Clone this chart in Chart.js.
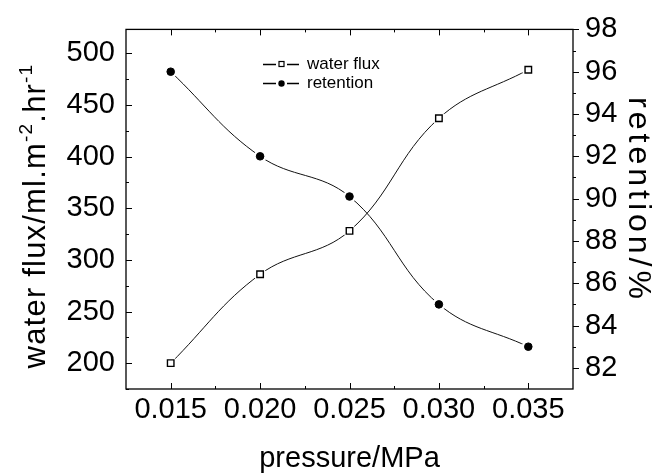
<!DOCTYPE html>
<html><head><meta charset="utf-8">
<script src="https://cdn.jsdelivr.net/npm/chart.js@4/dist/chart.umd.min.js"></script>
<style>html,body{margin:0;padding:0;background:#fff;} #wrap{width:655px;height:476px;}</style>
</head><body><div id="wrap"><canvas id="c" width="655" height="476"></canvas></div>
<script>
const pressure = [0.015, 0.020, 0.025, 0.030, 0.035];
const waterFlux = [200, 286, 328, 437, 484];
const retention = [96.0, 92.0, 90.1, 85.0, 83.0];
const xTicks = [0.015, 0.020, 0.025, 0.030, 0.035];
const fluxTicks = [200, 250, 300, 350, 400, 450, 500];
const retentionTicks = [82, 84, 86, 88, 90, 92, 94, 96, 98];
const seriesNames = ['water flux', 'retention'];
const xTitle = 'pressure/MPa';
const yTitleParts = [['water flux/ml.m', false], ['-2', true], ['.hr', false], ['-1', true]];
const y2Title = 'retention/%';

const FONT = "'Liberation Sans', Arial, sans-serif";

const frameTicks = {
  id: 'frameTicks',
  afterDatasetsDraw(chart) {
    const {ctx, chartArea: a, scales} = chart;
    ctx.save();
    ctx.strokeStyle = '#000';
    ctx.lineWidth = 1.3;
    ctx.strokeRect(a.left, a.top, a.right - a.left, a.bottom - a.top);
    ctx.lineWidth = 1;
    ctx.beginPath();
    const xs = scales.x, ys = scales.y, y2 = scales.y2;
    const vline = (px, y0, y1) => { px = Math.round(px) + 0.5; ctx.moveTo(px, y0); ctx.lineTo(px, y1); };
    const hline = (py, x0, x1) => { py = Math.round(py) + 0.5; ctx.moveTo(x0, py); ctx.lineTo(x1, py); };
    xTicks.forEach((v, i) => {
      const p = xs.getPixelForValue(v);
      vline(p, a.bottom, a.bottom - 6); vline(p, a.top, a.top + 6);
      if (i < xTicks.length - 1) {
        const m = xs.getPixelForValue((v + xTicks[i + 1]) / 2);
        vline(m, a.bottom, a.bottom - 3); vline(m, a.top, a.top + 3);
      }
    });
    fluxTicks.forEach((v, i) => {
      const p = ys.getPixelForValue(v);
      hline(p, a.left, a.left + 6);
      if (i < fluxTicks.length - 1) {
        const m = ys.getPixelForValue((v + fluxTicks[i + 1]) / 2);
        hline(m, a.left, a.left + 3);
      }
    });
    hline(ys.getPixelForValue(fluxTicks[0] - 25), a.left, a.left + 3);
    retentionTicks.forEach((v, i) => {
      const p = y2.getPixelForValue(v);
      hline(p, a.right, a.right + 6);
      if (i < retentionTicks.length - 1) {
        const m = y2.getPixelForValue((v + retentionTicks[i + 1]) / 2);
        hline(m, a.right, a.right + 3);
      }
    });
    ctx.stroke();
    ctx.restore();
  }
};

const legendPlugin = {
  id: 'insideLegend',
  afterDatasetsDraw(chart) {
    const {ctx} = chart;
    ctx.save();
    const rows = [64, 83];
    seriesNames.forEach((name, i) => {
      const y = rows[i];
      ctx.strokeStyle = '#000';
      ctx.lineWidth = 1.4;
      ctx.beginPath();
      ctx.moveTo(263, y + 0.5); ctx.lineTo(276, y + 0.5);
      ctx.moveTo(287, y + 0.5); ctx.lineTo(299, y + 0.5);
      ctx.stroke();
      ctx.lineWidth = 1.2;
      if (i === 0) {
        ctx.fillStyle = '#fff';
        ctx.fillRect(279, y - 2.5, 5, 5);
        ctx.strokeRect(279, y - 2.5, 5, 5);
      } else {
        ctx.fillStyle = '#000';
        ctx.beginPath(); ctx.arc(281.5, y + 0.5, 3.2, 0, Math.PI * 2); ctx.fill();
      }
      ctx.fillStyle = '#000';
      ctx.font = '17px ' + FONT;
      ctx.textBaseline = 'middle';
      ctx.textAlign = 'left';
      ctx.fillText(name, 307, y);
    });
    ctx.restore();
  }
};

const titlePlugin = {
  id: 'axisTitles',
  afterDraw(chart) {
    const {ctx} = chart;
    ctx.save();
    ctx.fillStyle = '#000';
    const big = '31px ' + FONT, small = '19px ' + FONT;
    try { ctx.letterSpacing = '1.2px'; } catch (e) {}
    let total = 0;
    yTitleParts.forEach(([t, sup]) => { ctx.font = sup ? small : big; total += ctx.measureText(t).width; });
    ctx.translate(45, 216);
    ctx.rotate(-Math.PI / 2);
    ctx.textBaseline = 'alphabetic';
    ctx.textAlign = 'left';
    let x = -total / 2;
    yTitleParts.forEach(([t, sup]) => {
      ctx.font = sup ? small : big;
      ctx.fillText(t, x, sup ? -13 : 0);
      x += ctx.measureText(t).width;
    });
    ctx.setTransform(1, 0, 0, 1, 0, 0);
    ctx.translate(638, 200);
    ctx.rotate(Math.PI / 2);
    ctx.font = '32px ' + FONT;
    try { ctx.letterSpacing = '4px'; } catch (e) {}
    ctx.textAlign = 'center';
    ctx.textBaseline = 'middle';
    ctx.fillText(y2Title, 0, 0);
    ctx.restore();
  }
};

const tickFont = {family: FONT, size: 29};
const fluxPts = pressure.map((p, i) => ({x: p, y: waterFlux[i]}));
const retPts = pressure.map((p, i) => ({x: p, y: retention[i]}));

new Chart(document.getElementById('c'), {
  type: 'line',
  data: {
    datasets: [
      {label: seriesNames[0], data: fluxPts, yAxisID: 'y', order: 3,
       borderColor: '#111', borderWidth: 1, tension: 0.4, pointRadius: 0},
      {label: seriesNames[1], data: retPts, yAxisID: 'y2', order: 3,
       borderColor: '#111', borderWidth: 1, tension: 0.4, pointRadius: 0},
      {label: 'halo1', data: fluxPts, yAxisID: 'y', order: 2, showLine: false,
       pointStyle: 'circle', pointRadius: 6.5, pointBackgroundColor: '#fff', pointBorderWidth: 0, pointBorderColor: '#fff'},
      {label: 'halo2', data: retPts, yAxisID: 'y2', order: 2, showLine: false,
       pointStyle: 'circle', pointRadius: 6.5, pointBackgroundColor: '#fff', pointBorderWidth: 0, pointBorderColor: '#fff'},
      {label: seriesNames[0] + ' pts', data: fluxPts, yAxisID: 'y', order: 1, showLine: false,
       pointStyle: 'rect', pointRadius: 4.6, pointBackgroundColor: '#fff',
       pointBorderColor: '#000', pointBorderWidth: 1.4},
      {label: seriesNames[1] + ' pts', data: retPts, yAxisID: 'y2', order: 1, showLine: false,
       pointStyle: 'circle', pointRadius: 3.8, pointBackgroundColor: '#000',
       pointBorderColor: '#000', pointBorderWidth: 1}
    ]
  },
  options: {
    responsive: false, animation: false, devicePixelRatio: 1,
    layout: {padding: {top: 28, left: 0, right: 0, bottom: 0}},
    plugins: {legend: {display: false}, tooltip: {enabled: false}},
    scales: {
      x: {
        type: 'linear', position: 'bottom', min: 0.0125, max: 0.0375,
        afterBuildTicks: s => { s.ticks = xTicks.map(v => ({value: v})); },
        afterFit: s => { s.height = 87; },
        grid: {display: false, drawTicks: false}, border: {display: false},
        ticks: {padding: 4, color: '#000', font: tickFont, maxRotation: 0, autoSkip: false,
                callback: v => Number(v).toFixed(3)},
        title: {display: true, text: xTitle, color: '#000', font: {family: FONT, size: 29}, padding: {top: 0, bottom: 0}}
      },
      y: {
        type: 'linear', position: 'left', min: 175, max: 523,
        afterBuildTicks: s => { s.ticks = fluxTicks.map(v => ({value: v})); },
        afterFit: s => { s.width = 126; },
        grid: {display: false, drawTicks: false}, border: {display: false},
        ticks: {padding: 11, color: '#000', font: tickFont, autoSkip: false}
      },
      y2: {
        type: 'linear', position: 'right', min: 81, max: 98,
        afterBuildTicks: s => { s.ticks = retentionTicks.map(v => ({value: v})); },
        afterFit: s => { s.width = 82; },
        grid: {display: false, drawTicks: false}, border: {display: false},
        ticks: {padding: 12, color: '#000', font: tickFont, autoSkip: false}
      }
    }
  },
  plugins: [frameTicks, legendPlugin, titlePlugin]
});
</script>
</body></html>
